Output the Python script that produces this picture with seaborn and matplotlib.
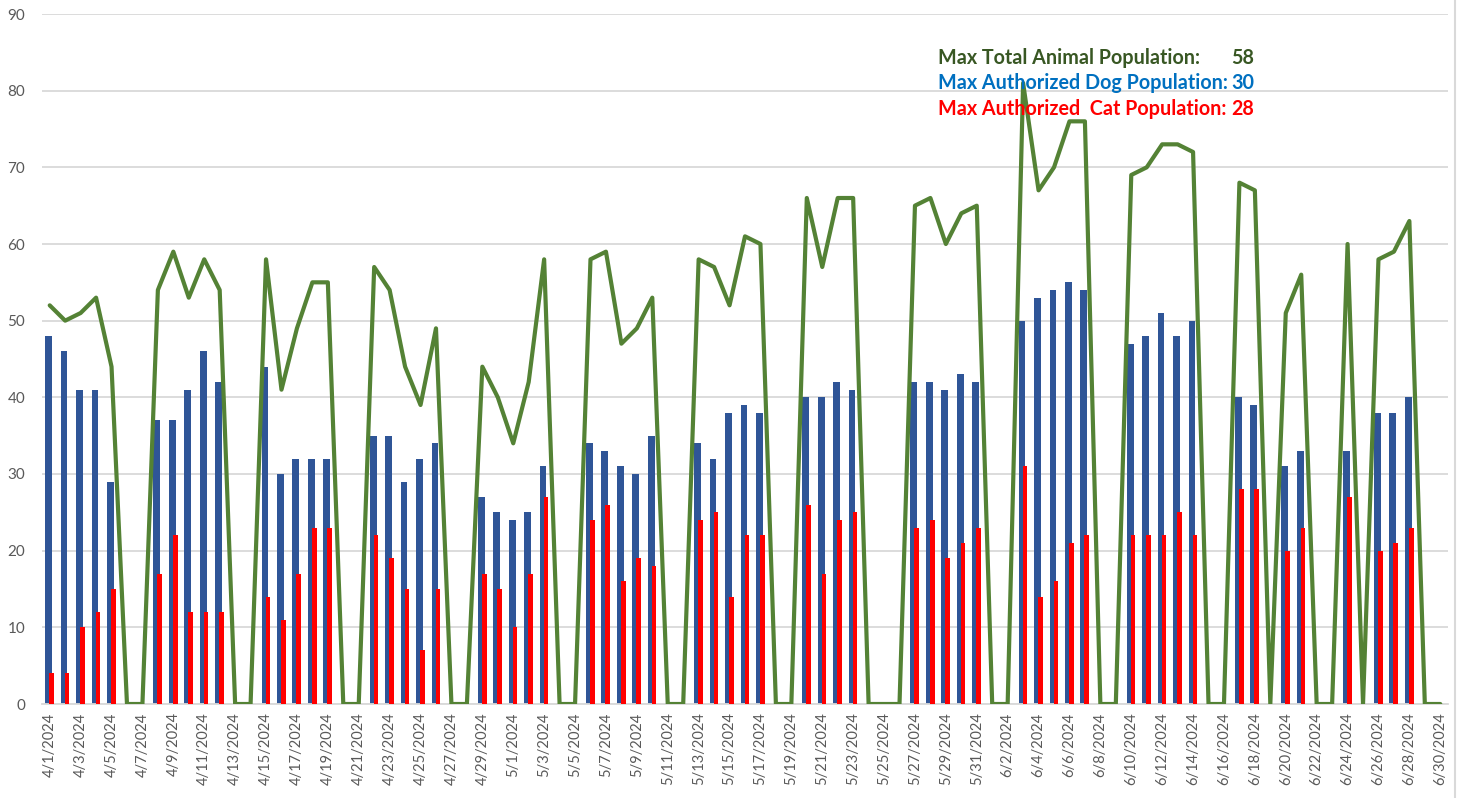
import matplotlib
matplotlib.use("Agg")
import matplotlib.pyplot as plt
import matplotlib.lines as mlines
import seaborn as sns
import pandas as pd
import numpy as np

# ---- data ----
start_date = "2024-04-01"
end_date = "2024-06-30"

dog = [48, 46, 41, 41, 29, 0, 0,
       37, 37, 41, 46, 42, 0, 0,
       44, 30, 32, 32, 32, 0, 0,
       35, 35, 29, 32, 34, 0, 0,
       27, 25, 24, 25, 31, 0, 0,
       34, 33, 31, 30, 35, 0, 0,
       34, 32, 38, 39, 38, 0, 0,
       40, 40, 42, 41, 0, 0, 0,
       42, 42, 41, 43, 42, 0, 0,
       50, 53, 54, 55, 54, 0, 0,
       47, 48, 51, 48, 50, 0, 0,
       40, 39, 0, 31, 33, 0, 0,
       33, 0, 38, 38, 40, 0, 0]

cat = [4, 4, 10, 12, 15, 0, 0,
       17, 22, 12, 12, 12, 0, 0,
       14, 11, 17, 23, 23, 0, 0,
       22, 19, 15, 7, 15, 0, 0,
       17, 15, 10, 17, 27, 0, 0,
       24, 26, 16, 19, 18, 0, 0,
       24, 25, 14, 22, 22, 0, 0,
       26, 17, 24, 25, 0, 0, 0,
       23, 24, 19, 21, 23, 0, 0,
       31, 14, 16, 21, 22, 0, 0,
       22, 22, 22, 25, 22, 0, 0,
       28, 28, 0, 20, 23, 0, 0,
       27, 0, 20, 21, 23, 0, 0]

total = [52, 50, 51, 53, 44, 0, 0,
         54, 59, 53, 58, 54, 0, 0,
         58, 41, 49, 55, 55, 0, 0,
         57, 54, 44, 39, 49, 0, 0,
         44, 40, 34, 42, 58, 0, 0,
         58, 59, 47, 49, 53, 0, 0,
         58, 57, 52, 61, 60, 0, 0,
         66, 57, 66, 66, 0, 0, 0,
         65, 66, 60, 64, 65, 0, 0,
         81, 67, 70, 76, 76, 0, 0,
         69, 70, 73, 73, 72, 0, 0,
         68, 67, 0, 51, 56, 0, 0,
         60, 0, 58, 59, 63, 0, 0]

annot_labels = ["Max Total Animal Population:",
                "Max Authorized Dog Population:",
                "Max Authorized  Cat Population:"]
annot_values = ["58", "30", "28"]

# ---- styling ----
sns.set_theme(style="white")
plt.rcParams["font.family"] = ["Lato", "DejaVu Sans"]

BLUE = "#2F5597"
RED = "#FF0000"
GREEN = "#548235"
GRID = "#D9D9D9"
TICK = "#595959"
annot_colors = ["#385723", "#0070C0", "#FF0000"]

dates = pd.date_range(start_date, end_date, freq="D")
labels = [f"{d.month}/{d.day}/{d.year}" for d in dates]
idx = np.arange(len(dates))

df = pd.DataFrame({"idx": idx, "dog": dog, "cat": cat, "total": total})
df["dog_x"] = df["idx"] - 0.07
df["cat_x"] = df["idx"] + 0.12

fig = plt.figure(figsize=(14.65, 7.98), dpi=100)
ax = fig.add_axes([42 / 1465, 1 - 704 / 798, (1448 - 42) / 1465, (704 - 14) / 798])

sns.barplot(data=df, x="dog_x", y="dog", native_scale=True, width=0.44,
            color=BLUE, saturation=1, linewidth=0, ax=ax, zorder=2)
sns.barplot(data=df, x="cat_x", y="cat", native_scale=True, width=0.30,
            color=RED, saturation=1, linewidth=0, ax=ax, zorder=3)
sns.lineplot(data=df, x="idx", y="total", color=GREEN, linewidth=3,
             ax=ax, zorder=4)

ax.set_xlim(-0.5, len(dates) - 0.5)
ax.set_ylim(0, 90)
ax.set_yticks(range(0, 91, 10))
ax.grid(axis="y", color=GRID, linewidth=1.3, zorder=0)
ax.set_axisbelow(True)

ax.set_xticks(idx[::2])
ax.set_xticklabels(labels[::2], rotation=90)
ax.set_xticks(np.arange(-0.5, len(dates), 2), minor=True)
ax.tick_params(axis="x", which="major", length=0, pad=6, labelsize=10.5, labelcolor=TICK)
ax.tick_params(axis="x", which="minor", length=5, width=1.2, color=GRID)
ax.tick_params(axis="y", length=0, pad=12, labelsize=11, labelcolor=TICK)
ax.set_xlabel("")
ax.set_ylabel("")

for s in ["top", "right", "left"]:
    ax.spines[s].set_visible(False)
ax.spines["bottom"].set_color(GRID)
ax.spines["bottom"].set_linewidth(1.3)

if ax.get_legend() is not None:
    ax.get_legend().remove()

# annotation text
ys = [58, 83, 109]
for lab, val, col, y in zip(annot_labels, annot_values, annot_colors, ys):
    fig.text(938 / 1465, 1 - y / 798, lab, color=col, fontsize=14.2,
             fontweight="bold", ha="left", va="center")
    fig.text(1254 / 1465, 1 - y / 798, val, color=col, fontsize=14.2,
             fontweight="bold", ha="right", va="center")

# chart area border on the right
fig.add_artist(mlines.Line2D([1455 / 1465, 1455 / 1465], [0, 1],
                             color=GRID, linewidth=1.5, transform=fig.transFigure))

fig.savefig("out.png", dpi=100)
